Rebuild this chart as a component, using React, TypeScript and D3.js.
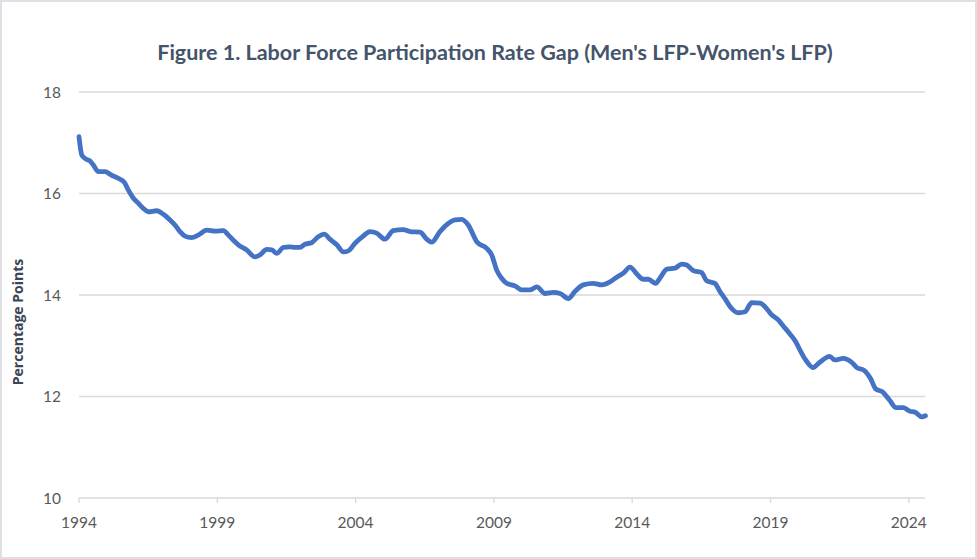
import React, { useEffect, useRef } from 'react';
import * as d3 from 'd3';

// values (decimal year, gap in percentage points)
const sampleYears = [
  1994.0, 1994.1, 1994.22, 1994.4, 1994.52, 1994.7, 1994.94, 1995.18, 1995.42, 1995.64,
  1995.78, 1995.96, 1996.14, 1996.32, 1996.5, 1996.81, 1997.05, 1997.29, 1997.47, 1997.65,
  1997.83, 1998.07, 1998.31, 1998.62, 1998.92, 1999.22, 1999.4, 1999.58, 1999.76, 2000.06,
  2000.36, 2000.54, 2000.79, 2000.97, 2001.15, 2001.39, 2001.63, 2001.81, 2001.99, 2002.17,
  2002.41, 2002.65, 2002.87, 2003.07, 2003.32, 2003.56, 2003.74, 2003.98, 2004.25, 2004.52,
  2004.76, 2005.06, 2005.36, 2005.72, 2005.97, 2006.33, 2006.57, 2006.75, 2007.05, 2007.35,
  2007.59, 2007.84, 2008.07, 2008.38, 2008.74, 2008.92, 2009.1, 2009.28, 2009.46, 2009.76,
  2010.0, 2010.3, 2010.55, 2010.85, 2011.15, 2011.39, 2011.69, 2011.93, 2012.23, 2012.59,
  2012.9, 2013.2, 2013.44, 2013.68, 2013.92, 2014.16, 2014.4, 2014.58, 2014.85, 2015.0,
  2015.25, 2015.55, 2015.79, 2015.97, 2016.21, 2016.51, 2016.69, 2016.99, 2017.17, 2017.35,
  2017.54, 2017.84, 2018.08, 2018.32, 2018.62, 2018.8, 2019.04, 2019.28, 2019.46, 2019.66,
  2019.9, 2020.09, 2020.27, 2020.54, 2020.77, 2021.14, 2021.32, 2021.63, 2021.94, 2022.12,
  2022.37, 2022.62, 2022.8, 2023.05, 2023.3, 2023.54, 2023.79, 2024.04, 2024.23, 2024.47,
  2024.6,
];

const gapValues = [
  17.12, 16.76, 16.69, 16.64, 16.56, 16.43, 16.43, 16.36, 16.3, 16.22,
  16.07, 15.91, 15.81, 15.71, 15.64, 15.66, 15.59, 15.48, 15.38, 15.25,
  15.16, 15.13, 15.18, 15.28, 15.26, 15.27, 15.18, 15.08, 14.99, 14.89,
  14.75, 14.79, 14.9, 14.89, 14.82, 14.94, 14.95, 14.94, 14.94, 15.0,
  15.03, 15.15, 15.2, 15.1, 14.99, 14.85, 14.87, 15.02, 15.15, 15.25,
  15.22, 15.1, 15.27, 15.29, 15.25, 15.24, 15.1, 15.04, 15.25, 15.41,
  15.48, 15.49, 15.38, 15.05, 14.92, 14.79, 14.49, 14.33, 14.23, 14.18,
  14.1, 14.1, 14.16, 14.03, 14.05, 14.03, 13.93, 14.07, 14.2, 14.23,
  14.2, 14.26, 14.35, 14.43, 14.55, 14.42, 14.31, 14.31, 14.23, 14.33,
  14.51, 14.53, 14.61, 14.59, 14.48, 14.44, 14.28, 14.23, 14.07, 13.93,
  13.77, 13.65, 13.67, 13.85, 13.84, 13.77, 13.61, 13.51, 13.39, 13.26,
  13.09, 12.89, 12.72, 12.57, 12.67, 12.79, 12.72, 12.75, 12.67, 12.57,
  12.52, 12.35, 12.15, 12.09, 11.93, 11.78, 11.78, 11.71, 11.69, 11.6,
  11.62,
];

const xTickYears = [1994, 1999, 2004, 2009, 2014, 2019, 2024];
const yTickValues = [10, 12, 14, 16, 18];

const chartTitle = "Figure 1. Labor Force Participation Rate Gap (Men's LFP-Women's LFP)";
const yAxisTitle = 'Percentage Points';

const width = 977;
const height = 559;

const App: React.FC = () => {
  const svgRef = useRef<SVGSVGElement>(null);

  useEffect(() => {
    if (!svgRef.current) return;
    const svg = d3.select(svgRef.current);
    svg.selectAll('*').remove();

    const gridColor = '#d9d9d9';
    const labelColor = '#595959';

    const x = d3.scaleLinear().domain([1994, 2024.585]).range([79, 925]);
    const y = d3.scaleLinear().domain([10, 18]).range([498, 92]);

    // background + outer border
    svg.append('rect')
      .attr('x', 1)
      .attr('y', 1)
      .attr('width', width - 2)
      .attr('height', height - 2)
      .attr('fill', '#fff')
      .attr('stroke', '#dde1e6')
      .attr('stroke-width', 2);

    // title
    svg.append('text')
      .attr('x', 495)
      .attr('y', 60)
      .attr('text-anchor', 'middle')
      .attr('font-family', 'Lato, sans-serif')
      .attr('font-size', '21.5px')
      .attr('font-weight', 'bold')
      .attr('fill', '#44546a')
      .text(chartTitle);

    // horizontal gridlines
    svg.append('g')
      .selectAll('line')
      .data(yTickValues)
      .enter()
      .append('line')
      .attr('x1', x.range()[0])
      .attr('x2', x.range()[1])
      .attr('y1', d => y(d))
      .attr('y2', d => y(d))
      .attr('stroke', gridColor)
      .attr('stroke-width', 1.3);

    // y tick labels
    svg.append('g')
      .selectAll('text')
      .data(yTickValues)
      .enter()
      .append('text')
      .attr('x', 61)
      .attr('y', d => y(d) + 5.5)
      .attr('text-anchor', 'end')
      .attr('font-family', 'Lato, sans-serif')
      .attr('font-size', '15.5px')
      .attr('fill', labelColor)
      .text(d => d);

    // x ticks and labels
    const xAxis = svg.append('g');
    xAxis.selectAll('line')
      .data(xTickYears)
      .enter()
      .append('line')
      .attr('x1', d => x(d))
      .attr('x2', d => x(d))
      .attr('y1', y(10))
      .attr('y2', y(10) + 5)
      .attr('stroke', gridColor)
      .attr('stroke-width', 1.3);

    xAxis.selectAll('text')
      .data(xTickYears)
      .enter()
      .append('text')
      .attr('x', d => x(d))
      .attr('y', 528)
      .attr('text-anchor', 'middle')
      .attr('font-family', 'Lato, sans-serif')
      .attr('font-size', '15.5px')
      .attr('fill', labelColor)
      .text(d => d);

    // y axis title
    svg.append('text')
      .attr('transform', `translate(23, 322) rotate(-90)`)
      .attr('text-anchor', 'middle')
      .attr('font-family', '"Open Sans", sans-serif')
      .attr('font-size', '14px')
      .attr('font-weight', 'bold')
      .attr('fill', '#3b4555')
      .text(yAxisTitle);

    // the series line
    const points: [number, number][] = sampleYears.map((yr, i) => [yr, gapValues[i]]);
    const line = d3.line<[number, number]>()
      .x(d => x(d[0]))
      .y(d => y(d[1]))
      .curve(d3.curveMonotoneX);

    svg.append('path')
      .datum(points)
      .attr('d', line)
      .attr('fill', 'none')
      .attr('stroke', '#4472c4')
      .attr('stroke-width', 4.8)
      .attr('stroke-linejoin', 'round')
      .attr('stroke-linecap', 'round');
  }, []);

  return (
    <svg
      ref={svgRef}
      width={width}
      height={height}
      style={{ position: 'absolute', left: 0, top: 0, display: 'block' }}
    />
  );
};

export default App;
